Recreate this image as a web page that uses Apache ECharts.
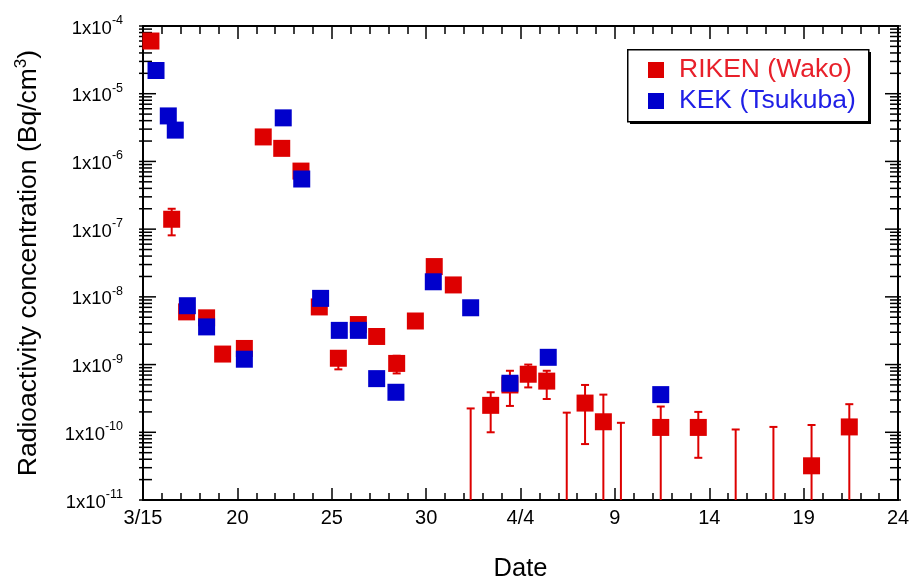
<!DOCTYPE html>
<html>
<head>
<meta charset="utf-8">
<script src="https://cdn.jsdelivr.net/npm/echarts@6/dist/echarts.min.js"></script>
<style>
  html, body { margin: 0; padding: 0; background: #fff; }
  #chart { width: 910px; height: 580px; }
</style>
</head>
<body>
<div id="chart"></div>
<script>
// x = days counted from 3/15
const xTickLabels = ['3/15', '20', '25', '30', '4/4', '9', '14', '19', '24'];

const rikenDays = [0.42, 1.52, 2.31, 3.37, 4.22, 5.37, 6.37, 7.35, 8.37, 9.34, 10.35, 11.41, 12.38, 13.44, 14.43, 15.43,
  16.44, 17.36, 18.42, 19.44, 20.41, 21.39, 22.45, 23.42, 24.39, 25.32, 27.43, 29.42, 31.4, 33.4, 35.42, 37.42];
const rikenValues = [6.0e-5, 1.4e-7, 6.0e-9, 4.9e-9, 1.43e-9, 1.73e-9, 2.3e-6, 1.56e-6, 7.2e-7, 7.1e-9, 1.24e-9, 3.9e-9, 2.6e-9, 1.04e-9, 4.4e-9, 2.8e-8,
  1.5e-8, null, 2.5e-10, 5.0e-10, 7.2e-10, 5.7e-10, null, 2.7e-10, 1.43e-10, null, 1.18e-10, 1.18e-10, null, null, 3.2e-11, 1.2e-10];
// error bars: upper null = no bar, lower null = bar runs down to the axis
const rikenUpper = [null, 2.0e-7, null, null, null, null, null, null, null, null, 1.5e-9, null, null, 1.35e-9, null, null,
  null, 2.25e-10, 3.9e-10, 8.1e-10, 1.0e-9, 8.1e-10, 1.95e-10, 5.0e-10, 3.6e-10, 1.38e-10, 2.4e-10, 2.0e-10, 1.1e-10, 1.2e-10, 1.28e-10, 2.6e-10];
const rikenLower = [null, 8.1e-8, null, null, null, null, null, null, null, null, 8.5e-10, null, null, 7.4e-10, null, null,
  null, null, 1.0e-10, 2.45e-10, 4.6e-10, 3.1e-10, null, 6.7e-11, null, null, null, 4.2e-11, null, null, null, null];

const kekDays = [0.69, 1.34, 1.71, 2.35, 3.37, 5.37, 7.43, 8.41, 9.41, 10.4, 11.41, 12.38, 13.4, 15.38, 17.36, 19.44, 21.47, 27.43];
const kekValues = [2.2e-5, 4.7e-6, 2.9e-6, 7.4e-9, 3.6e-9, 1.2e-9, 4.4e-6, 5.5e-7, 9.5e-9, 3.2e-9, 3.2e-9, 6.2e-10, 3.9e-10, 1.67e-8, 6.9e-9, 5.3e-10, 1.28e-9, 3.6e-10];

const RED = '#dd0000';
const BLUE = '#0000cc';
const FONT = 'Liberation Sans';
const X_MIN = 0;
const X_MAX = 40;
const Y_MIN = 1e-11;
const Y_MAX = 1e-4;

const rikenData = [];
const errData = [];
rikenDays.forEach((d, i) => {
  if (rikenValues[i] != null) rikenData.push([d, rikenValues[i]]);
  if (rikenUpper[i] != null) {
    errData.push([d, rikenUpper[i], rikenLower[i] == null ? Y_MIN : rikenLower[i]]);
  }
});
const kekData = kekDays.map((d, i) => [d, kekValues[i]]);

// log ticks 1..9 in every decade (m == 1 is the long one), drawn across the frame
const logTicks = [];
for (let e = -11; e <= -4; e++) {
  for (let m = 1; m <= 9; m++) {
    if (e === -4 && m > 1) break;
    logTicks.push([X_MIN, m * Math.pow(10, e), m === 1 ? 1 : 0]);
  }
}

const chart = echarts.init(document.getElementById('chart'), null, { renderer: 'canvas' });

const tickStyle = { color: '#000', width: 1.5 };
const lineStyle = { color: '#000', width: 2 };

const option = {
  animation: false,
  backgroundColor: '#fff',
  textStyle: { fontFamily: FONT },
  grid: { left: 143, right: 12, top: 26, bottom: 80, containLabel: false, outerBoundsMode: 'none' },
  graphic: [
    { type: 'rect', z: 5, left: 630, top: 52, shape: { width: 241, height: 72 }, style: { fill: '#000' } },
    { type: 'rect', z: 6, left: 627, top: 49, shape: { width: 241, height: 72 }, style: { fill: '#fff', stroke: '#000', lineWidth: 1.5 } }
  ],
  legend: {
    z: 10,
    left: 627,
    top: 50,
    orient: 'vertical',
    padding: [6, 6, 6, 21],
    itemGap: 3,
    itemWidth: 16,
    itemHeight: 16,
    textStyle: { fontFamily: FONT, fontSize: 26.5, lineHeight: 28, padding: [0, 0, 0, 10] },
    data: [
      { name: 'RIKEN (Wako)', icon: 'rect', textStyle: { color: '#e8202a' } },
      { name: 'KEK (Tsukuba)', icon: 'rect', textStyle: { color: '#1f1fe6' } }
    ]
  },
  xAxis: [
    {
      type: 'value',
      min: X_MIN,
      max: X_MAX,
      interval: 5,
      name: 'Date',
      nameLocation: 'middle',
      nameGap: 56,
      nameTextStyle: { fontFamily: FONT, fontSize: 25.5, color: '#000' },
      axisLine: { onZero: false, lineStyle: lineStyle },
      axisTick: { inside: true, length: 12, lineStyle: tickStyle },
      minorTick: { show: true, splitNumber: 5, length: 7, lineStyle: tickStyle },
      splitLine: { show: false },
      axisLabel: {
        margin: 8,
        fontFamily: FONT,
        fontSize: 20,
        color: '#000',
        formatter: (v) => xTickLabels[Math.round(v / 5)]
      }
    },
    {
      type: 'value',
      position: 'top',
      min: X_MIN,
      max: X_MAX,
      interval: 5,
      axisLine: { onZero: false, lineStyle: lineStyle },
      axisTick: { inside: true, length: 13, lineStyle: tickStyle },
      minorTick: { show: true, splitNumber: 5, length: 8, lineStyle: tickStyle },
      splitLine: { show: false },
      axisLabel: { show: false }
    }
  ],
  yAxis: [
    {
      type: 'log',
      logBase: 10,
      min: Y_MIN,
      max: Y_MAX,
      splitNumber: 7,
      name: 'Radioactivity concentration (Bq/cm{sup|3})',
      nameLocation: 'middle',
      nameGap: 98,
      nameTextStyle: {
        fontFamily: FONT,
        fontSize: 26.5,
        color: '#000',
        rich: {
          sup: { fontFamily: FONT, fontSize: 17, color: '#000', verticalAlign: 'top', lineHeight: 32 }
        }
      },
      axisLine: { onZero: false, lineStyle: lineStyle },
      axisTick: { show: false },
      splitLine: { show: false },
      axisLabel: {
        margin: 20,
        color: '#000',
        formatter: (v) => '{b|1x10}{s|' + Math.round(Math.log10(v)) + '}',
        rich: {
          b: { fontFamily: FONT, fontSize: 18.5, color: '#000', lineHeight: 24, verticalAlign: 'bottom' },
          s: { fontFamily: FONT, fontSize: 12.5, color: '#000', lineHeight: 24, verticalAlign: 'top' }
        }
      }
    },
    {
      type: 'log',
      logBase: 10,
      position: 'right',
      min: Y_MIN,
      max: Y_MAX,
      splitNumber: 7,
      axisLine: { onZero: false, lineStyle: lineStyle },
      axisTick: { show: false },
      splitLine: { show: false },
      axisLabel: { show: false }
    }
  ],
  series: [
    {
      // log ticks on the left and right frame
      type: 'custom',
      name: 'logTicks',
      z: 1,
      silent: true,
      encode: { x: 0, y: 1 },
      data: logTicks,
      renderItem: (params, api) => {
        const v = api.value(1);
        const major = api.value(2) === 1;
        const l = api.coord([X_MIN, v]);
        const r = api.coord([X_MAX, v]);
        const st = { stroke: '#000', lineWidth: 1.5 };
        const inL = major ? 13 : 9;
        const inR = major ? 13 : 8;
        return {
          type: 'group',
          children: [
            { type: 'line', shape: { x1: l[0] - 4, y1: l[1], x2: l[0] + inL, y2: l[1] }, style: st },
            { type: 'line', shape: { x1: r[0] - inR, y1: r[1], x2: r[0] + 3, y2: r[1] }, style: st }
          ]
        };
      }
    },
    {
      type: 'custom',
      name: 'errors',
      z: 1,
      silent: true,
      encode: { x: 0, y: 1 },
      data: errData,
      renderItem: (params, api) => {
        const x = api.value(0);
        const hi = api.value(1);
        const lo = api.value(2);
        const top = api.coord([x, hi]);
        const bot = api.coord([x, lo]);
        const st = { stroke: RED, lineWidth: 2 };
        const kids = [
          { type: 'line', shape: { x1: top[0], y1: top[1], x2: bot[0], y2: bot[1] }, style: st },
          { type: 'line', shape: { x1: top[0] - 4, y1: top[1], x2: top[0] + 4, y2: top[1] }, style: st }
        ];
        if (lo > Y_MIN) {
          kids.push({ type: 'line', shape: { x1: bot[0] - 4, y1: bot[1], x2: bot[0] + 4, y2: bot[1] }, style: st });
        }
        return { type: 'group', children: kids };
      }
    },
    {
      type: 'scatter',
      name: 'RIKEN (Wako)',
      z: 2,
      symbol: 'rect',
      symbolSize: 17,
      itemStyle: { color: RED, opacity: 1 },
      data: rikenData
    },
    {
      type: 'scatter',
      name: 'KEK (Tsukuba)',
      z: 3,
      symbol: 'rect',
      symbolSize: 17,
      itemStyle: { color: BLUE, opacity: 1 },
      data: kekData
    }
  ]
};

chart.setOption(option);
</script>
</body>
</html>
